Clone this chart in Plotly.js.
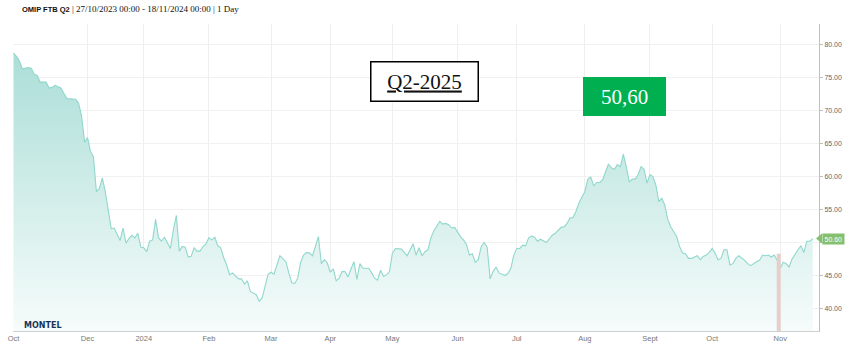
<!DOCTYPE html>
<html><head><meta charset="utf-8">
<script src="https://cdn.plot.ly/plotly-3.0.1.min.js"></script>
<style>html,body{margin:0;padding:0;background:#fff;overflow:hidden}#chart{width:851px;height:355px}</style>
</head><body><div id="chart"></div>
<script>
// ---- data ----
const firstSession = '2023-10-27';
const lastSession  = '2024-11-18';
const holidays = ['2023-12-25','2023-12-26','2024-01-01','2024-03-29','2024-04-01','2024-05-01'];

// trading-session number (0 = 27/10/2023) and settlement price (EUR/MWh)
const sessions = [
 0,1,2,3,5,6,7,8,9,11,12,13,14,16,17,18,21,22,23,24,25,26,27,28,29,30,31,32,33,34,35,36,37,38,39,40,
 41,42,43,44,45,46,47,48,49,50,51,52,53,54,55,56,57,58,59,60,61,62,63,64,65,66,67,68,69,70,71,72,73,74,
 75,76,77,78,79,80,82,83,84,85,86,87,88,90,91,
 92,93,94,95,96,97,98,99,100,101,102,103,104,105,106,107,108,109,110,111,112,113,114,115,116,117,118,
 120,121,122,123,124,125,126,127,128,129,131,132,133,134,135,136,137,138,139,140,141,142,143,144,145,146,
 147,148,149,150,151,152,153,154,155,156,157,158,159,160,161,162,163,164,166,167,168,169,170,171,172,173,
 174,175,176,177,178,180,181,182,183,
 185,186,187,188,189,190,191,192,193,194,195,196,197,198,199,201,202,203,204,205,206,207,208,209,210,211,
 212,213,214,215,216,217,218,219,220,221,222,224,225,226,227,228,229,231,232,233,234,235,236,237,238,239,
 240,241,242,243,244,245,247,248,249,251,252,253,254,255,256,257,258,259,260,261,262,263,264,265,266,267,
 268,269,270
];
const prices = [
 78.7,78.2,77.5,76.3,76.5,76.4,75.5,75.3,74.3,74.3,73.4,73.5,73.8,73.4,72.6,71.8,71.7,71.1,69.1,65.2,65.9,63.8,63.0,57.7,58.2,59.8,57.7,55.2,52.1,52.2,51.2,50.3,52.2,49.9,50.6,51.1,
 50.7,51.4,49.3,49.2,48.6,50.2,50.4,53.5,50.7,50.2,50.8,49.9,49.1,51.9,54.1,48.7,49.4,49.3,47.8,47.9,49.2,48.7,48.7,49.4,49.8,50.7,50.4,50.8,49.5,49.2,47.7,46.6,45.1,45.4,
 44.9,44.5,44.5,43.7,44.2,42.6,42.1,41.1,41.6,43.6,45.2,45.5,45.2,48.0,47.6,
 47.1,45.4,43.9,43.8,44.6,47.0,48.1,48.5,48.4,48.0,49.5,50.9,46.8,47.4,46.9,45.5,46.0,44.2,44.6,45.6,45.6,44.8,46.0,47.1,44.4,46.8,46.1,
 46.1,45.4,44.6,44.3,45.8,44.9,45.1,45.6,48.4,49.1,49.0,48.5,48.0,48.9,49.8,48.1,49.2,48.0,48.6,48.9,50.7,51.8,52.5,53.2,52.8,52.9,
 52.7,52.2,52.3,51.5,50.9,50.4,49.7,48.1,48.3,47.0,47.4,49.4,50.0,49.3,44.5,45.6,46.3,45.4,45.0,45.3,46.1,48.1,49.1,49.1,49.6,49.5,
 50.7,51.0,50.8,50.2,50.5,50.0,50.6,51.1,51.4,
 52.3,52.4,52.9,53.7,53.8,54.7,56.0,56.9,57.7,59.6,59.9,58.6,59.1,59.1,59.5,61.9,61.3,61.1,61.8,61.5,63.4,61.5,59.2,59.6,59.6,60.3,
 61.5,61.1,59.0,60.3,60.0,58.7,56.2,56.7,55.7,53.5,52.4,50.9,49.4,48.4,48.3,47.6,47.6,48.0,47.4,47.9,48.1,48.5,49.1,48.4,47.4,47.6,
 48.9,48.9,46.6,46.8,47.6,48.0,47.3,46.8,46.5,47.1,47.3,48.1,48.0,48.1,47.8,48.1,47.3,46.1,47.0,46.8,46.3,47.5,48.3,48.9,49.5,48.5,
 50.2,50.2,50.6
];

const tickMonths = ['2023-10','2023-12','2024-01','2024-02','2024-03','2024-04','2024-05','2024-06','2024-07','2024-08','2024-09','2024-10','2024-11'];
const tickLabels = ['Oct','Dec','2024','Feb','Mar','Apr','May','Jun','Jul','Aug','Sept','Oct','Nov'];
const yTicks = [40,45,50,55,60,65,70,75,80];

const eventSession = [258.5];
const eventLevel = [48.3];

const chartTitle = 'OMIP FTB Q2';
const chartSub = ' | 27/10/2023 00:00 - 18/11/2024 00:00 | 1 Day';
const contractLabel = 'Q2-2025';

// ---- trading calendar -> tick positions ----
const cal = [];
let d = new Date(firstSession + 'T00:00:00Z');
const end = new Date(lastSession + 'T00:00:00Z');
while (d <= end) {
  const iso = d.toISOString().slice(0,10);
  const wd = d.getUTCDay();
  if (wd !== 0 && wd !== 6 && !holidays.includes(iso)) cal.push(iso);
  d.setUTCDate(d.getUTCDate() + 1);
}
const tickvals = tickMonths.map(m => cal.findIndex(s => s.startsWith(m)));
const dates = sessions.map(i => cal[i]);

const yMin = 36.6, yMax = 83.1;
const last = prices[prices.length - 1];
// the last-price flag hides the tick label it sits on
const yTickText = yTicks.map(v => Math.abs(v - last) < 2 ? '' : v.toFixed(2));

const traces = [
  {
    type: 'scatter', mode: 'lines', x: sessions, y: prices, text: dates,
    line: {color: '#90d7cd', width: 1.1},
    fill: 'tozeroy',
    fillgradient: {type: 'vertical', start: yMin, stop: 80,
      colorscale: [[0, '#f6fcfb'], [1, '#a9ddd6']]},
    hoverinfo: 'skip'
  },
  {
    type: 'scatter', mode: 'lines',
    x: [eventSession[0], eventSession[0]], y: [0, eventLevel[0]],
    line: {color: '#e6cfcb', width: 4}, hoverinfo: 'skip'
  }
];

const layout = {
  width: 851, height: 355,
  margin: {l: 13, r: 32, t: 24, b: 24},
  paper_bgcolor: '#fff', plot_bgcolor: '#fff',
  showlegend: false,
  xaxis: {
    range: [-0.17, 272.1], tickmode: 'array', tickvals: tickvals, ticktext: tickLabels,
    showgrid: true, gridcolor: '#efefef', gridwidth: 1, zeroline: false,
    showline: true, linecolor: '#cfcfcf', linewidth: 1, ticks: '',
    tickfont: {family: 'Liberation Sans, Arial, sans-serif', size: 7.5, color: '#777'}
  },
  yaxis: {
    side: 'right', range: [yMin, yMax], tickmode: 'array', tickvals: yTicks, ticktext: yTickText,
    ticks: 'outside', ticklen: 3, tickcolor: '#c0c0c0',
    showline: true, linecolor: '#c0c0c0', linewidth: 1,
    showgrid: true, gridcolor: '#f1f1f1', zeroline: false,
    tickfont: {family: 'Liberation Sans, Arial, sans-serif', size: 7, color: '#666'}
  },
  shapes: [
    {type: 'path', xref: 'paper', yref: 'y',
     path: 'M 0.9963 ' + last + ' L 1.0040 ' + (last + 0.8) + ' L 1.0040 ' + (last - 0.8) + ' Z',
     fillcolor: '#84c06e', line: {width: 0}, layer: 'above'}
  ],
  annotations: [
    {xref: 'paper', yref: 'paper', x: 0.0087, y: 1.049, xanchor: 'left', yanchor: 'middle', showarrow: false,
     text: '<b>' + chartTitle + '</b><span style="font-family:Liberation Serif, serif;font-size:9px">' + chartSub + '</span>',
     font: {family: 'Liberation Sans, Arial, sans-serif', size: 7.5, color: '#111'}},
    {xref: 'paper', yref: 'paper', x: 0.0112, y: 0.0195, xanchor: 'left', yanchor: 'middle', showarrow: false,
     text: '<b>MONTEL</b>', font: {family: 'DejaVu Sans, sans-serif', size: 8, color: '#1b3556'}},
    {xref: 'paper', yref: 'paper', x: 0.5106, y: 0.8137, xanchor: 'center', yanchor: 'middle', showarrow: false,
     text: '<u>' + contractLabel + '</u>', width: 106, height: 38, borderpad: 0,
     bgcolor: '#fff', bordercolor: '#000', borderwidth: 1.5,
     font: {family: 'Liberation Serif, serif', size: 21, color: '#111'}},
    {xref: 'paper', yref: 'paper', x: 0.7587, y: 0.7645, xanchor: 'center', yanchor: 'middle', showarrow: false,
     text: last.toFixed(2).replace('.', ','), width: 83, height: 39, borderpad: 0,
     bgcolor: '#00b050', borderwidth: 0,
     font: {family: 'Liberation Serif, serif', size: 21, color: '#fff'}},
    {xref: 'paper', yref: 'y', x: 1.0040, y: last, xanchor: 'left', yanchor: 'middle', showarrow: false,
     text: last.toFixed(2), bgcolor: '#84c06e', borderpad: 1.5,
     font: {family: 'Liberation Sans, Arial, sans-serif', size: 7, color: '#fff'}}
  ]
};

Plotly.newPlot('chart', traces, layout, {staticPlot: true, displayModeBar: false});
</script>
</body></html>
